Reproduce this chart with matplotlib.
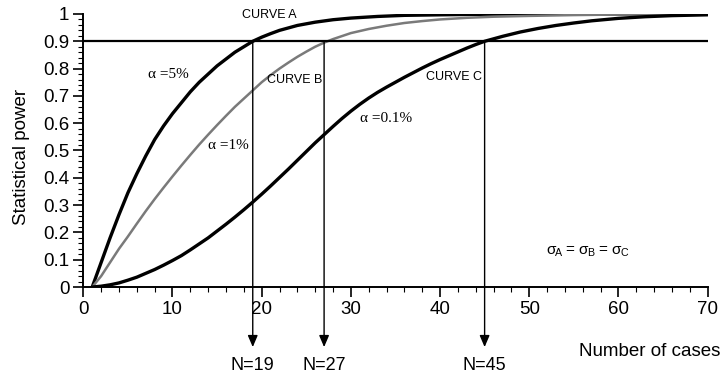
import numpy as np
import matplotlib
matplotlib.use("Agg")
import matplotlib.pyplot as plt
from matplotlib.ticker import MultipleLocator

plt.rcParams['font.family'] = ['Liberation Sans', 'DejaVu Sans']
plt.rcParams['mathtext.fontset'] = 'custom'
plt.rcParams['mathtext.rm'] = 'Liberation Sans'
plt.rcParams['mathtext.it'] = 'Liberation Sans:italic'

# curve A (alpha = 5%)
n_a = [1, 1.5, 2, 3, 4, 5, 6, 7, 8, 9, 10, 11, 12, 13, 14, 15, 16, 17, 18, 19, 20, 21, 22,
       24, 26, 28, 30, 33, 36, 40, 45, 50, 60, 70]
p_a = [0, 0.045, 0.09, 0.18, 0.265, 0.345, 0.415, 0.48, 0.54, 0.59, 0.635, 0.675, 0.715,
       0.75, 0.78, 0.81, 0.835, 0.86, 0.88, 0.90, 0.915, 0.928, 0.94, 0.958, 0.97, 0.979,
       0.985, 0.991, 0.995, 0.997, 0.999, 1.0, 1.0, 1.0]

# curve B (alpha = 1%)
n_b = [1, 2, 3, 4, 5, 6, 7, 8, 9, 10, 11, 12, 13, 14, 15, 16, 17, 18, 19, 20, 21, 22, 23,
       24, 25, 26, 27, 28, 30, 32, 34, 36, 38, 40, 43, 46, 50, 55, 60, 70]
p_b = [0, 0.04, 0.09, 0.14, 0.185, 0.232, 0.278, 0.322, 0.364, 0.405, 0.445, 0.484, 0.522,
       0.558, 0.593, 0.627, 0.66, 0.69, 0.72, 0.75, 0.776, 0.80, 0.822, 0.843, 0.862, 0.88,
       0.895, 0.908, 0.93, 0.945, 0.957, 0.967, 0.974, 0.98, 0.986, 0.99, 0.993, 0.996,
       0.998, 0.999]

# curve C (alpha = 0.1%)
n_c = [1, 2, 3, 4, 5, 6, 7, 8, 9, 10, 11, 12, 13, 14, 15, 16, 17, 18, 19, 20, 21, 22, 23,
       24, 25, 26, 27, 28, 29, 30, 31, 32, 33, 34, 35, 36, 37, 38, 39, 40, 41, 42, 43, 44,
       45, 47, 49, 51, 53, 55, 57, 60, 63, 66, 70]
p_c = [0, 0.003, 0.008, 0.015, 0.025, 0.036, 0.05, 0.064, 0.08, 0.097, 0.115, 0.136, 0.158,
       0.18, 0.205, 0.23, 0.256, 0.283, 0.311, 0.34, 0.37, 0.401, 0.432, 0.464, 0.496, 0.528,
       0.558, 0.588, 0.617, 0.644, 0.669, 0.692, 0.713, 0.732, 0.75, 0.768, 0.785, 0.802,
       0.818, 0.833, 0.847, 0.861, 0.875, 0.888, 0.90, 0.918, 0.934, 0.947, 0.958, 0.967,
       0.975, 0.984, 0.99, 0.994, 0.997]

power_level = 0.9
n_required = [19, 27, 45]

fig = plt.figure(figsize=(7.22, 3.74), dpi=100)
ax = fig.add_axes([0.1154, 0.2326, 0.8646, 0.73])

ax.plot(n_a, p_a, color='black', lw=2.4, solid_capstyle='round')
ax.plot(n_b, p_b, color='#7a7a7a', lw=1.8)
ax.plot(n_c, p_c, color='black', lw=2.4, solid_capstyle='round')

ax.plot([0, 70], [power_level, power_level], color='black', lw=1.6)

for n in n_required:
    ax.annotate('', xy=(n, -0.22), xytext=(n, power_level), annotation_clip=False,
                arrowprops=dict(arrowstyle='-|>,head_length=0.7,head_width=0.3',
                                color='black', lw=1.0, shrinkA=0, shrinkB=0))
    ax.text(n, -0.288, 'N=%d' % n, ha='center', va='center', fontsize=13,
            clip_on=False)

ax.set_xlim(0, 70)
ax.set_ylim(0, 1)
ax.xaxis.set_major_locator(MultipleLocator(10))
ax.xaxis.set_minor_locator(MultipleLocator(2))
ax.yaxis.set_minor_locator(MultipleLocator(0.02))
ax.set_yticks(np.arange(0, 1.01, 0.1))
ax.set_yticklabels(['0', '0.1', '0.2', '0.3', '0.4', '0.5', '0.6', '0.7', '0.8', '0.9', '1'])
ax.tick_params(which='major', direction='out', length=7, width=1.2, labelsize=13.5, pad=3)
ax.tick_params(which='minor', direction='out', length=3.5, width=0.8)

for s in ['top', 'right']:
    ax.spines[s].set_visible(False)
for s in ['left', 'bottom']:
    ax.spines[s].set_linewidth(1.4)

ax.text(20.9, 0.997, 'CURVE A', fontsize=9, ha='center', va='center', clip_on=False)
ax.text(23.7, 0.758, 'CURVE B', fontsize=9, ha='center', va='center')
ax.text(41.6, 0.769, 'CURVE C', fontsize=9, ha='center', va='center')
ax.text(9.55, 0.777, 'α =5%', fontsize=11, ha='center', va='center',
        family=['Liberation Serif', 'DejaVu Serif'])
ax.text(16.3, 0.52, 'α =1%', fontsize=11, ha='center', va='center',
        family=['Liberation Serif', 'DejaVu Serif'])
ax.text(33.9, 0.619, 'α =0.1%', fontsize=11, ha='center', va='center',
        family=['Liberation Serif', 'DejaVu Serif'])
ax.text(56.5, 0.128, r'$\mathrm{\sigma_{\!A}}$ = $\mathrm{\sigma_{\!B}}$ = $\mathrm{\sigma_{\!C}}$',
        fontsize=11, ha='center', va='center')

fig.text(0.03, 0.58, 'Statistical power', rotation=90, ha='center', va='center', fontsize=13.5)
fig.text(0.998, 0.059, 'Number of cases', ha='right', va='center', fontsize=13.5)

fig.savefig('out.png', dpi=100)
